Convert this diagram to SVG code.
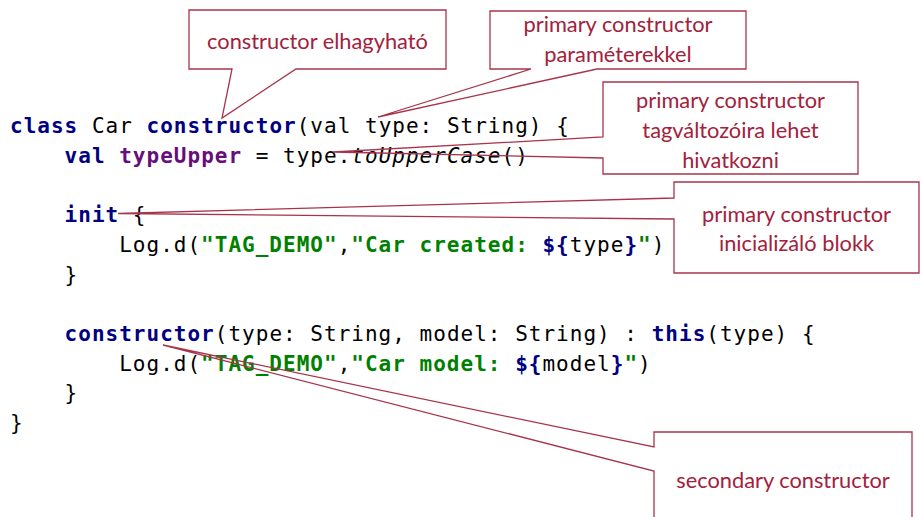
<svg xmlns="http://www.w3.org/2000/svg" width="921" height="517" viewBox="0 0 921 517">
  <style>
    .code { font-family: "DejaVu Sans Mono", "Liberation Mono", monospace; font-size: 21px; letter-spacing: 1.01px; fill: #000; }
    .kw { font-weight: bold; fill: #000080; }
    .prop { font-weight: bold; fill: #660E7A; }
    .str { font-weight: bold; fill: #008000; }
    .it { font-style: italic; }
    .callout { fill: none; stroke: #A8344B; stroke-width: 1.3; stroke-linejoin: miter; }
    .note { font-family: Lato, "Open Sans", sans-serif; font-size: 21.8px; fill: #A3213B; text-anchor: middle; }
  </style>
  <rect width="921" height="517" fill="#fff"/>

  <!-- Kotlin source -->
  <g id="code" class="code">
    <text x="10" y="133"><tspan class="kw">class</tspan> Car <tspan class="kw">constructor</tspan>(val type: String) {</text>
    <text x="64.6" y="162.7"><tspan class="kw">val</tspan> <tspan class="prop">typeUpper</tspan> = type.<tspan class="it">toUpperCase</tspan>()</text>
    <text x="64.6" y="222.1"><tspan class="kw">init</tspan> {</text>
    <text x="119.2" y="251.8">Log.d(<tspan class="str">"TAG_DEMO"</tspan>,<tspan class="str">"Car created: </tspan><tspan class="kw">${</tspan>type<tspan class="kw">}</tspan><tspan class="str">"</tspan>)</text>
    <text x="64.6" y="281.5">}</text>
    <text x="64.6" y="340.9"><tspan class="kw">constructor</tspan>(type: String, model: String) : <tspan class="kw">this</tspan>(type) {</text>
    <text x="119.2" y="370.6">Log.d(<tspan class="str">"TAG_DEMO"</tspan>,<tspan class="str">"Car model: </tspan><tspan class="kw">${</tspan>model<tspan class="kw">}</tspan><tspan class="str">"</tspan>)</text>
    <text x="64.6" y="400.3">}</text>
    <text x="10" y="430">}</text>
  </g>

  <!-- Annotation callouts -->
  <g id="note-omit">
    <path class="callout" d="M189,10 H446 V69 H296 L222,118 L232,69 H189 Z"/>
    <text class="note" x="317.5" y="49">constructor elhagyható</text>
  </g>
  <g id="note-params">
    <path class="callout" d="M490,11 H746 V69 H597 L378,117 L531,69 H490 Z"/>
    <text class="note" x="618" y="32">primary constructor</text>
    <text class="note" x="618" y="62">paraméterekkel</text>
  </g>
  <g id="note-members">
    <path class="callout" d="M603,82 H858 V174 H603 V158 L333,152 L603,137 Z"/>
    <text class="note" x="730.5" y="108">primary constructor</text>
    <text class="note" x="730.5" y="138">tagváltozóira lehet</text>
    <text class="note" x="730.5" y="167.5">hivatkozni</text>
  </g>
  <g id="note-init">
    <path class="callout" d="M674,182 H919 V273 H674 V219 L118,213.5 L674,198 Z"/>
    <text class="note" x="796.5" y="222">primary constructor</text>
    <text class="note" x="796.5" y="251">inicializáló blokk</text>
  </g>
  <g id="note-secondary">
    <path class="callout" d="M654,432 H912 V520 H654 V471 L163,345 L654,447 Z"/>
    <text class="note" x="783" y="488">secondary constructor</text>
  </g>
</svg>
